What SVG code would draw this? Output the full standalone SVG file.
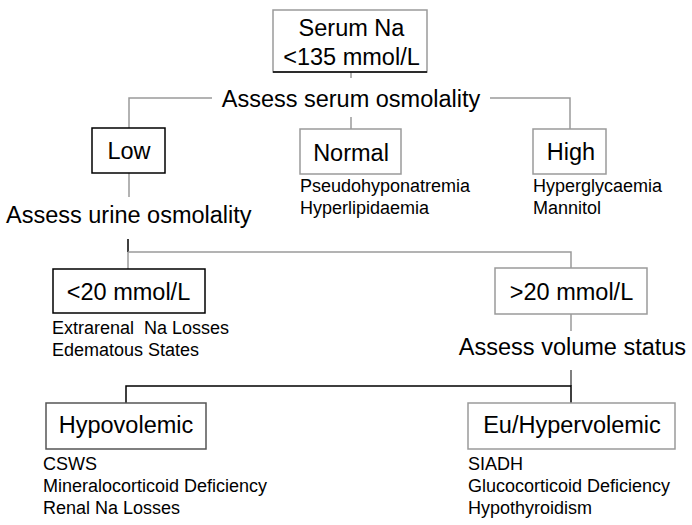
<svg xmlns="http://www.w3.org/2000/svg" width="692" height="525" viewBox="0 0 692 525">
<style>
text{font-family:"Liberation Sans",Arial,sans-serif;fill:#000}
.big{font-size:23.5px}
.sm{font-size:18px}
.mid{text-anchor:middle}
.bx{fill:#fff;stroke-width:1.5}
.g{stroke:#9a9a9a}
.k{stroke:#000}
.d{stroke:#555}
.ln{fill:none;stroke-width:1.5}
</style>
<rect width="692" height="525" fill="#fff"/>
<g id="connectors">
  <line class="ln g" x1="351" y1="72" x2="351" y2="78"/>
  <polyline class="ln g" points="212,98 129,98 129,128"/>
  <polyline class="ln g" points="490,98 570,98 570,129"/>
  <line class="ln g" x1="351" y1="117" x2="351" y2="129"/>
  <line class="ln g" x1="129" y1="173" x2="129" y2="197"/>
  <line class="ln k" x1="128" y1="239" x2="128" y2="252"/>
  <line class="ln g" x1="128" y1="252" x2="128" y2="269"/>
  <polyline class="ln g" points="128,252 571,252 571,268"/>
  <line class="ln g" x1="571" y1="314" x2="571" y2="331"/>
  <line class="ln d" x1="571" y1="370" x2="571" y2="386"/>
  <polyline class="ln k" points="126,403 126,386 571,386 571,403"/>
</g>
<g id="serum-na">
  <rect class="bx g" x="273" y="10" width="154" height="62"/>
  <line class="ln k" x1="273" y1="72" x2="427" y2="72"/>
  <text class="big mid" x="351.5" y="36">Serum Na</text>
  <text class="big mid" x="351.5" y="65">&lt;135 mmol/L</text>
</g>
<g id="assess-serum">
  <text class="big mid" x="351" y="107">Assess serum osmolality</text>
</g>
<g id="low">
  <rect class="bx k" x="92" y="128" width="73" height="45"/>
  <text class="big mid" x="129" y="159">Low</text>
</g>
<g id="normal">
  <rect class="bx g" x="300" y="129" width="101" height="45"/>
  <text class="big mid" x="351" y="161">Normal</text>
  <text class="sm" x="300" y="192">Pseudohyponatremia</text>
  <text class="sm" x="300" y="214">Hyperlipidaemia</text>
</g>
<g id="high">
  <rect class="bx g" x="533" y="129" width="73" height="45"/>
  <text class="big mid" x="571" y="160">High</text>
  <text class="sm" x="533" y="192">Hyperglycaemia</text>
  <text class="sm" x="533" y="214">Mannitol</text>
</g>
<g id="assess-urine">
  <text class="big" x="6" y="223">Assess urine osmolality</text>
</g>
<g id="lt20">
  <rect class="bx k" x="53" y="269" width="152" height="44"/>
  <text class="big mid" x="128.5" y="300">&lt;20 mmol/L</text>
  <text class="sm" x="52" y="334" xml:space="preserve">Extrarenal  Na Losses</text>
  <text class="sm" x="52" y="356">Edematous States</text>
</g>
<g id="gt20">
  <rect class="bx g" x="495" y="268" width="152" height="46"/>
  <text class="big mid" x="571.5" y="300">&gt;20 mmol/L</text>
</g>
<g id="assess-volume">
  <text class="big mid" x="572.5" y="355">Assess volume status</text>
</g>
<g id="hypovolemic">
  <rect class="bx d" x="46" y="403" width="160" height="46"/>
  <text class="big mid" x="126" y="433">Hypovolemic</text>
  <text class="sm" x="43" y="470">CSWS</text>
  <text class="sm" x="43" y="492">Mineralocorticoid Deficiency</text>
  <text class="sm" x="43" y="514">Renal Na Losses</text>
</g>
<g id="euhypervolemic">
  <rect class="bx g" x="468" y="403" width="207" height="46"/>
  <text class="big mid" x="572" y="433">Eu/Hypervolemic</text>
  <text class="sm" x="468" y="470">SIADH</text>
  <text class="sm" x="468" y="492">Glucocorticoid Deficiency</text>
  <text class="sm" x="468" y="514">Hypothyroidism</text>
</g>
</svg>
